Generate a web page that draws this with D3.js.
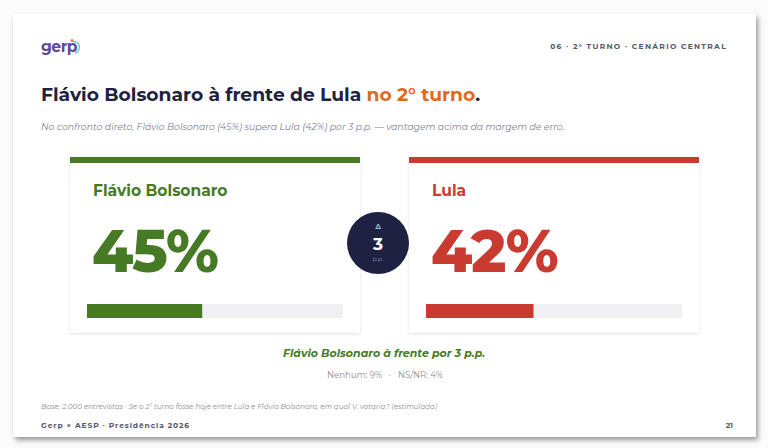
<!DOCTYPE html>
<html><head><meta charset="utf-8">
<script src="https://cdn.jsdelivr.net/npm/d3@7"></script>
<style>
html,body{margin:0;padding:0;background:#ffffff;}
svg{display:block;}
</style></head>
<body>
<svg id="chart" width="768" height="448"></svg>
<script>
const candidates = ["Flávio Bolsonaro", "Lula"];
const shares = [45, 42];
const colors = ["#467a25", "#c93b31"];
const others = ["Nenhum: 9%", "NS/NR: 4%"];
const diff = shares[0] - shares[1];

const svg = d3.select("#chart");
const F = "Montserrat, Inter, 'Open Sans', sans-serif";
const defs = svg.append("defs");
const sh = defs.append("filter").attr("id","sh").attr("x","-5%").attr("y","-5%").attr("width","110%").attr("height","115%");
sh.append("feDropShadow").attr("dx",2).attr("dy",3).attr("stdDeviation",2.5).attr("flood-color","#000").attr("flood-opacity",0.4);
const cs = defs.append("filter").attr("id","cs").attr("x","-10%").attr("y","-10%").attr("width","120%").attr("height","130%");
cs.append("feDropShadow").attr("dx",0).attr("dy",1).attr("stdDeviation",1.5).attr("flood-color","#000").attr("flood-opacity",0.12);

svg.append("rect").attr("width",768).attr("height",448).attr("fill","#fbfbfb");
svg.append("rect").attr("x",13).attr("y",14).attr("width",743).attr("height",423).attr("fill","#fff").attr("filter","url(#sh)");

// logo
const logo = svg.append("g");
logo.append("text").attr("x",41).attr("y",52).attr("font-family",F).attr("font-weight",700).attr("font-size",15.5)
  .attr("letter-spacing",-0.5).attr("fill","#5a4a9c").text("gerp");
logo.append("path").attr("d","M72,41.5 a5.5,5.5 0 1 1 3,11.5").attr("fill","none").attr("stroke","#5cc3c9").attr("stroke-width",1.3);
logo.append("circle").attr("cx",72).attr("cy",40.5).attr("r",1.5).attr("fill","#e9834a");

svg.append("text").attr("x",727).attr("y",49).attr("text-anchor","end").attr("font-family",F).attr("font-weight",700)
  .attr("font-size",7.5).attr("letter-spacing",1.3).attr("fill","#55576a").text("06 · 2° TURNO · CENÁRIO CENTRAL");

const t = svg.append("text").attr("x",41).attr("y",101).attr("font-family",F).attr("font-weight",700).attr("font-size",18.7).attr("fill","#1e2240");
t.append("tspan").text("Flávio Bolsonaro à frente de Lula ");
t.append("tspan").attr("fill","#e0691f").text("no 2° turno");
t.append("tspan").text(".");

svg.append("text").attr("x",41).attr("y",130).attr("font-family",F).attr("font-style","italic").attr("font-size",9.3)
  .attr("fill","#7d8090").text(`No confronto direto, ${candidates[0]} (${shares[0]}%) supera ${candidates[1]} (${shares[1]}%) por ${diff} p.p. — vantagem acima da margem de erro.`);

// cards
const xCard = d3.scaleOrdinal().domain(candidates).range([70, 409]);
const cardW = 290;
const barScale = d3.scaleLinear().domain([0,100]).range([0,256]);

const cards = svg.selectAll("g.card").data(candidates).join("g").attr("class","card")
  .attr("transform", d => `translate(${xCard(d)},157)`);
cards.append("rect").attr("x",0).attr("y",0).attr("width",cardW).attr("height",176).attr("fill","#fff").attr("filter","url(#cs)");
cards.append("rect").attr("x",0).attr("y",0).attr("width",cardW).attr("height",6).attr("fill",(d,i)=>colors[i]);
cards.append("text").attr("x",23).attr("y",39).attr("font-family",F).attr("font-weight",700).attr("font-size",15.5)
  .attr("fill",(d,i)=>colors[i]).text(d=>d);
cards.append("text").attr("x",22).attr("y",115).attr("font-family",F).attr("font-weight",800).attr("font-size",59)
  .attr("letter-spacing",-1.3).attr("fill",(d,i)=>colors[i]).text((d,i)=>shares[i]+"%");
cards.append("rect").attr("x",17).attr("y",147).attr("width",barScale(100)).attr("height",14).attr("fill","#efeff4");
cards.append("rect").attr("x",17).attr("y",147).attr("width",(d,i)=>barScale(shares[i])).attr("height",14).attr("fill",(d,i)=>colors[i]);

// diff circle
const c = svg.append("g").attr("transform","translate(378,243)");
c.append("circle").attr("r",31).attr("fill","#1f2142");
c.append("text").attr("y",-14).attr("text-anchor","middle").attr("font-family",F).attr("font-weight",700).attr("font-size",7.5).attr("fill","#8ec6da").text("Δ");
c.append("text").attr("y",7).attr("text-anchor","middle").attr("font-family",F).attr("font-weight",700).attr("font-size",17).attr("fill","#fff").text(diff);
c.append("text").attr("y",18).attr("text-anchor","middle").attr("font-family",F).attr("font-size",6).attr("fill","#8a90b0").text("p.p.");

svg.append("text").attr("x",384).attr("y",357).attr("text-anchor","middle").attr("font-family",F).attr("font-weight",700).attr("font-style","italic")
  .attr("font-size",11).attr("fill",colors[0]).text(`${candidates[0]} à frente por ${diff} p.p.`);
svg.append("text").attr("x",385).attr("y",378).attr("text-anchor","middle").attr("font-family",F).attr("font-size",8.6)
  .attr("fill","#8a8c98").attr("xml:space","preserve").text(others.join("   ·   "));

svg.append("text").attr("x",41).attr("y",409).attr("font-family",F).attr("font-style","italic").attr("font-size",7.1)
  .attr("fill","#8a8c98").text("Base: 2.000 entrevistas · Se o 2° turno fosse hoje entre Lula e Flávio Bolsonaro, em qual V. votaria? (estimulada)");
svg.append("text").attr("x",41).attr("y",428).attr("font-family",F).attr("font-weight",700).attr("font-size",7.5).attr("letter-spacing",0.9)
  .attr("fill","#55576a").text("Gerp × AESP · Presidência 2026");
svg.append("text").attr("x",733).attr("y",428).attr("text-anchor","end").attr("font-family",F).attr("font-weight",700).attr("font-size",7.5)
  .attr("fill","#55576a").text("21");
</script>
</body></html>
